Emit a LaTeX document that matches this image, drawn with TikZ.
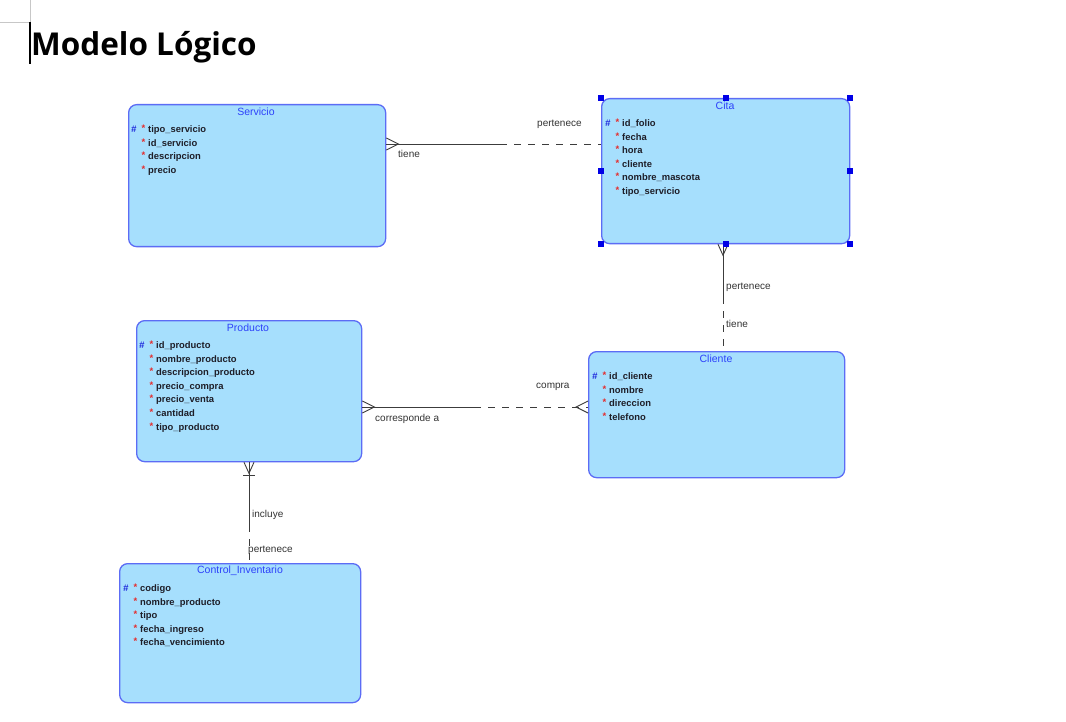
\documentclass[tikz,border=0pt]{standalone}
\usepackage{fontspec}
\setmainfont{Liberation Sans}
\newfontfamily\titlefont{Open Sans}
\usetikzlibrary{calc}
\definecolor{entfill}{RGB}{166,223,253}
\definecolor{entdraw}{RGB}{92,108,245}
\definecolor{enttitle}{RGB}{45,65,250}
\definecolor{pkblue}{RGB}{30,40,220}
\definecolor{reqred}{RGB}{228,45,45}
\definecolor{attrtext}{RGB}{30,30,40}
\definecolor{linegray}{RGB}{60,60,60}
\definecolor{handleblue}{RGB}{0,0,230}
\newcommand\entattrs[4]{%
  \node[pkmark] (#1pk) at ({#2-1},{#3+3.5}) {\#};
  \foreach \t [count=\i] in {#4} {
    \node[reqmark] (#1r\i) at ({#2+9.5},{#3+2.5+13.6*(\i-1)}) {*};
    \node[attr] (#1a\i) at ({#2+16},{#3+3.5+13.6*(\i-1)}) {\t};
  }%
}
\tikzset{
  entity/.style={draw=entdraw, fill=entfill, line width=1.3pt, rounded corners=8pt, anchor=north west, inner sep=0pt},
  enttitle/.style={text=enttitle, font=\fontsize{10.5}{12}\selectfont, inner sep=0pt},
  attr/.style={anchor=base west, inner sep=0pt, text=attrtext, font=\fontsize{9.4}{11}\selectfont\bfseries},
  reqmark/.style={anchor=base west, inner sep=0pt, text=reqred, font=\fontsize{9.5}{10}\selectfont\bfseries},
  pkmark/.style={anchor=base west, inner sep=0pt, text=pkblue, font=\fontsize{9.5}{10}\selectfont\bfseries\itshape},
  conn/.style={draw=linegray, line width=0.9pt},
  dashpart/.style={conn, dash pattern=on 7pt off 7pt},
  lbl/.style={anchor=base west, inner sep=0pt, text=black!80, font=\fontsize{10}{12}\selectfont},
  handle/.style={fill=handleblue, draw=none, minimum size=6pt, inner sep=0pt},
}
\begin{document}
\begin{tikzpicture}[x=1pt,y=-1pt]
\useasboundingbox (0,0) rectangle (1066,722);
\fill[white] (0,0) rectangle (1066,722);
% editor marks
\coordinate (g0) at (30,0);
\coordinate (g1) at (30,22);
\coordinate (g2) at (0,22);
\coordinate (g3) at (30,64);
\draw[black!22, line width=0.8pt] (g0) -- (g1) -- (g2);
\draw[black, line width=1.5pt] (g1) -- (g3);
\node[anchor=base west, inner sep=0pt, font=\titlefont\fontsize{31.5}{36}\selectfont\bfseries] (title) at (31,56) {Modelo Lógico};

% entities
\node[entity, minimum width=257pt, minimum height=142pt] (serv) at (128,104) {};
\node[entity, minimum width=248pt, minimum height=145pt] (cita) at (601,98) {};
\node[entity, minimum width=225pt, minimum height=141pt] (prod) at (136,320) {};
\node[entity, minimum width=256pt, minimum height=126pt] (cli) at (588,351) {};
\node[entity, minimum width=241pt, minimum height=139pt] (ctrl) at (119,563) {};

\node[enttitle] (servT) at (256,111.5) {Servicio};
\node[enttitle] (citaT) at (725,105.5) {Cita};
\node[enttitle] (prodT) at (248,327.5) {Producto};
\node[enttitle] (cliT) at (716,358.5) {Cliente};
\node[enttitle] (ctrlT) at (240,570.5) {Control\_Inventario};

\entattrs{s}{132}{129}{tipo\_servicio,id\_servicio,descripcion,precio}
\entattrs{c}{606}{123}{id\_folio,fecha,hora,cliente,nombre\_mascota,tipo\_servicio}
\entattrs{p}{140}{345}{id\_producto,nombre\_producto,descripcion\_producto,precio\_compra,precio\_venta,cantidad,tipo\_producto}
\entattrs{k}{593}{376}{id\_cliente,nombre,direccion,telefono}
\entattrs{v}{124}{588}{codigo,nombre\_producto,tipo,fecha\_ingreso,fecha\_vencimiento}

% connector 1: Servicio - Cita
\coordinate (c1m) at (500,144);
\coordinate (c1a) at (serv.east |- c1m);
\coordinate (c1b) at (cita.west |- c1m);
\draw[conn] (c1a) -- (c1m);
\draw[dashpart] (c1m) -- (c1b);
\draw[conn] ($(c1a)+(0,-6)$) -- ($(c1a)+(12,0)$) -- ($(c1a)+(0,6)$);
\node[lbl] (l1a) at (398,158) {tiene};
\node[lbl] (l1b) at (537,126.5) {pertenece};

% connector 2: Cita - Cliente
\coordinate (c2m) at (723,297);
\coordinate (c2a) at (c2m |- cita.south);
\coordinate (c2b) at (c2m |- cli.north);
\draw[conn] (c2a) -- (c2m);
\draw[dashpart] (c2m) -- (c2b);
\draw[conn] ($(c2a)+(-5,0)$) -- ($(c2a)+(0,11)$) -- ($(c2a)+(5,0)$);
\node[lbl] (l2a) at (726,290) {pertenece};
\node[lbl] (l2b) at (726,327.5) {tiene};

% connector 3: Producto - Cliente
\coordinate (c3m) at (474,407);
\coordinate (c3a) at (prod.east |- c3m);
\coordinate (c3b) at (cli.west |- c3m);
\draw[conn] (c3a) -- (c3m);
\draw[dashpart] (c3m) -- (c3b);
\draw[conn] ($(c3a)+(0,-6)$) -- ($(c3a)+(12,0)$) -- ($(c3a)+(0,6)$);
\draw[conn] ($(c3b)+(0,-6)$) -- ($(c3b)+(-12,0)$) -- ($(c3b)+(0,6)$);
\node[lbl] (l3a) at (375,421) {corresponde a};
\node[lbl] (l3b) at (536,388.5) {compra};

% connector 4: Producto - Control_Inventario
\coordinate (c4m) at (249,525);
\coordinate (c4a) at (c4m |- prod.south);
\coordinate (c4b) at (c4m |- ctrl.north);
\draw[conn] (c4a) -- (c4m);
\draw[dashpart] (c4m) -- (c4b);
\draw[conn] ($(c4a)+(-5,0)$) -- ($(c4a)+(0,11)$) -- ($(c4a)+(5,0)$);
\draw[conn] ($(c4a)+(-6,13)$) -- ($(c4a)+(6,13)$);
\node[lbl] (l4a) at (252,517.5) {incluye};
\node[lbl] (l4b) at (248,552.5) {pertenece};

% selection handles on Cita
\foreach \a [count=\j] in {north west,north,north east,west,east,south west,south,south east}
  \node[handle] (h\j) at (cita.\a) {};
\end{tikzpicture}
\end{document}
